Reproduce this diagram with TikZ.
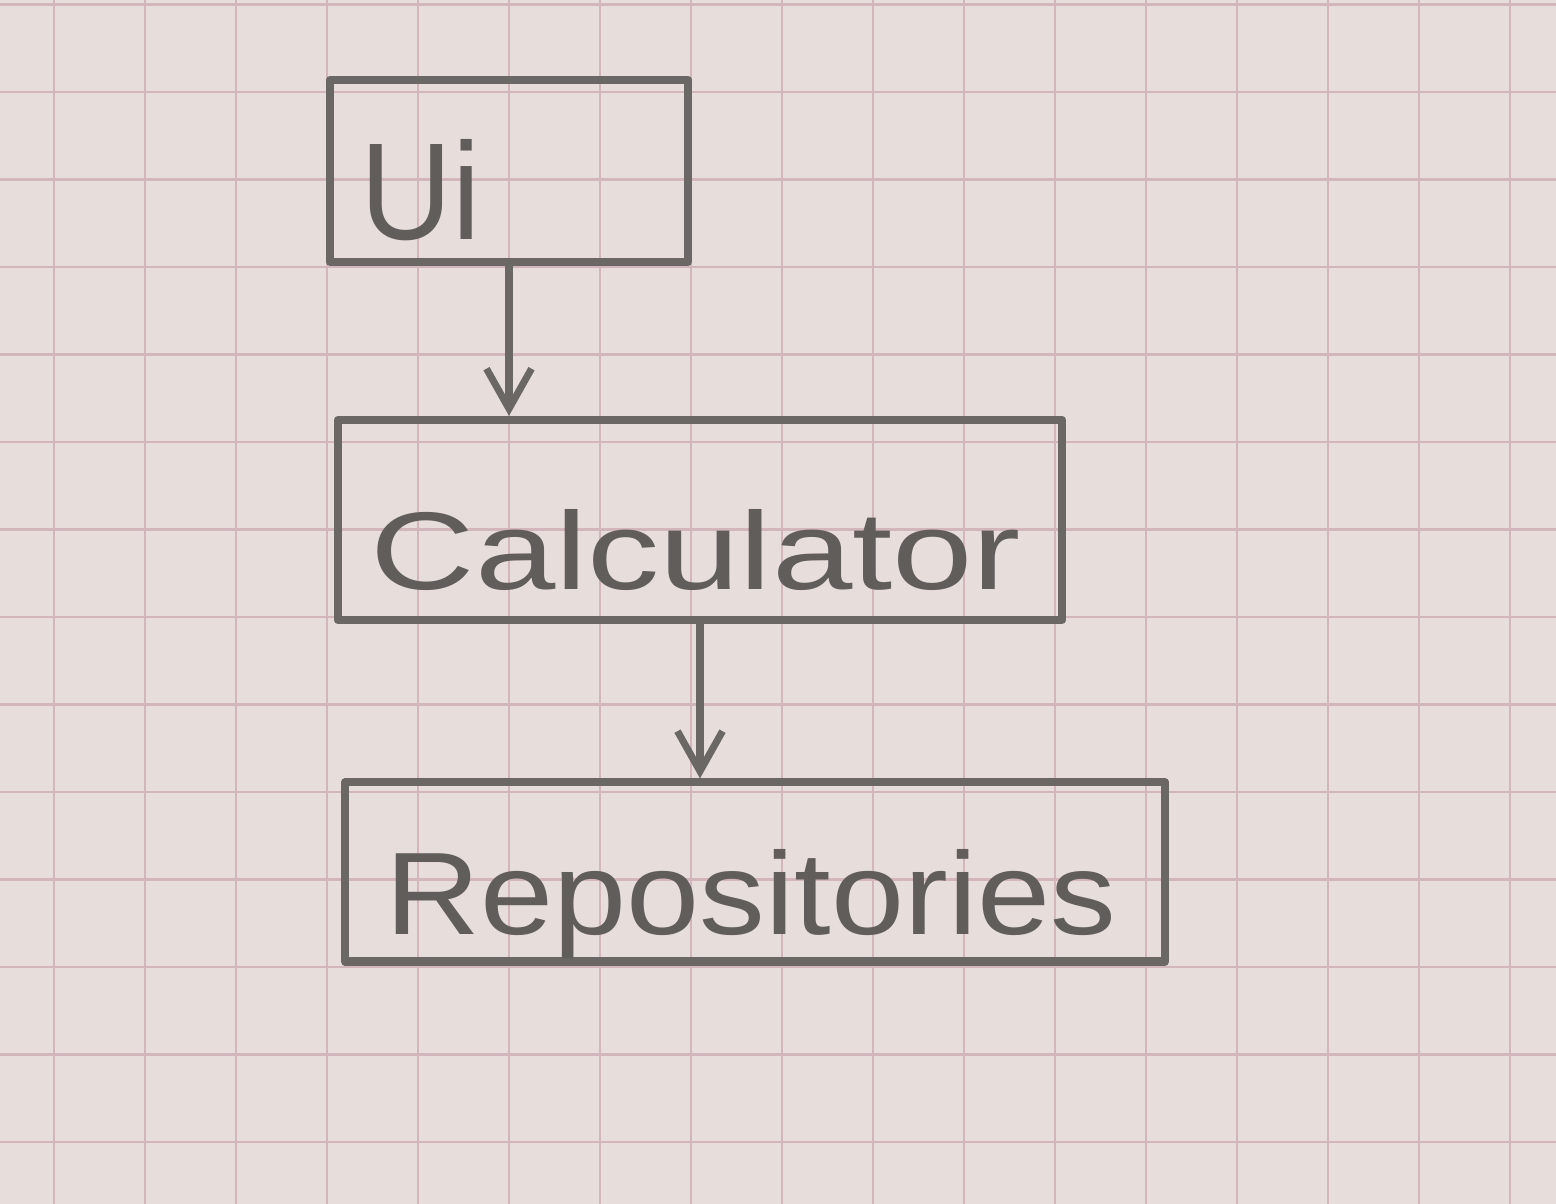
\documentclass[tikz,border=0pt]{standalone}
\usepackage{fontspec}
\setmainfont{Liberation Sans}
\usetikzlibrary{arrows.meta}
\definecolor{paper}{HTML}{E7DDDA}
\definecolor{gridc}{HTML}{D3B6BC}
\definecolor{pencil}{HTML}{6A6764}
\definecolor{ink}{HTML}{605D5B}
\begin{document}
\begin{tikzpicture}[x=0.01cm,y=-0.01cm,
  boxnode/.style={draw=pencil,line width=2.3pt,line join=round,rectangle,inner sep=0pt},
  label/.style={text=ink,inner sep=0pt,anchor=base west},
  conn/.style={draw=pencil,line width=2.1pt,line cap=round,-{Straight Barb[length=0.4cm,width=0.45cm,line width=2pt]}}]
\useasboundingbox (0,0) rectangle (1556,1204);
\fill[paper] (0,0) rectangle (1556,1204);
\foreach \k in {-3,...,14} {\draw[gridc,line width=0.7pt] ({327+91*\k},0) -- ({327+91*\k},1204);}
\foreach \k in {-1,...,12} {\draw[gridc,line width=0.7pt] (0,{92+87.5*\k}) -- (1556,{92+87.5*\k});}
% boxes
\node[boxnode,minimum width=3.58cm,minimum height=1.82cm] (ui) at (509,171) {};
\node[boxnode,minimum width=7.24cm,minimum height=2.0cm] (calc) at (700,520) {};
\node[boxnode,minimum width=8.2cm,minimum height=1.79cm] (repo) at (755,872) {};
% labels
\node[label] (tui) at (360,240) {\resizebox{1.2cm}{1.0cm}{Ui}};
\node[label] (tcalc) at (370,590) {\resizebox{6.5cm}{0.8cm}{Calculator}};
\node[label] (trepo) at (385,935) {\resizebox{7.3cm}{0.85cm}{Repositories}};
% connectors
\draw[conn] (ui.south) -- (ui.south |- calc.north);
\draw[conn] (calc.south) -- (calc.south |- repo.north);
\end{tikzpicture}
\end{document}
